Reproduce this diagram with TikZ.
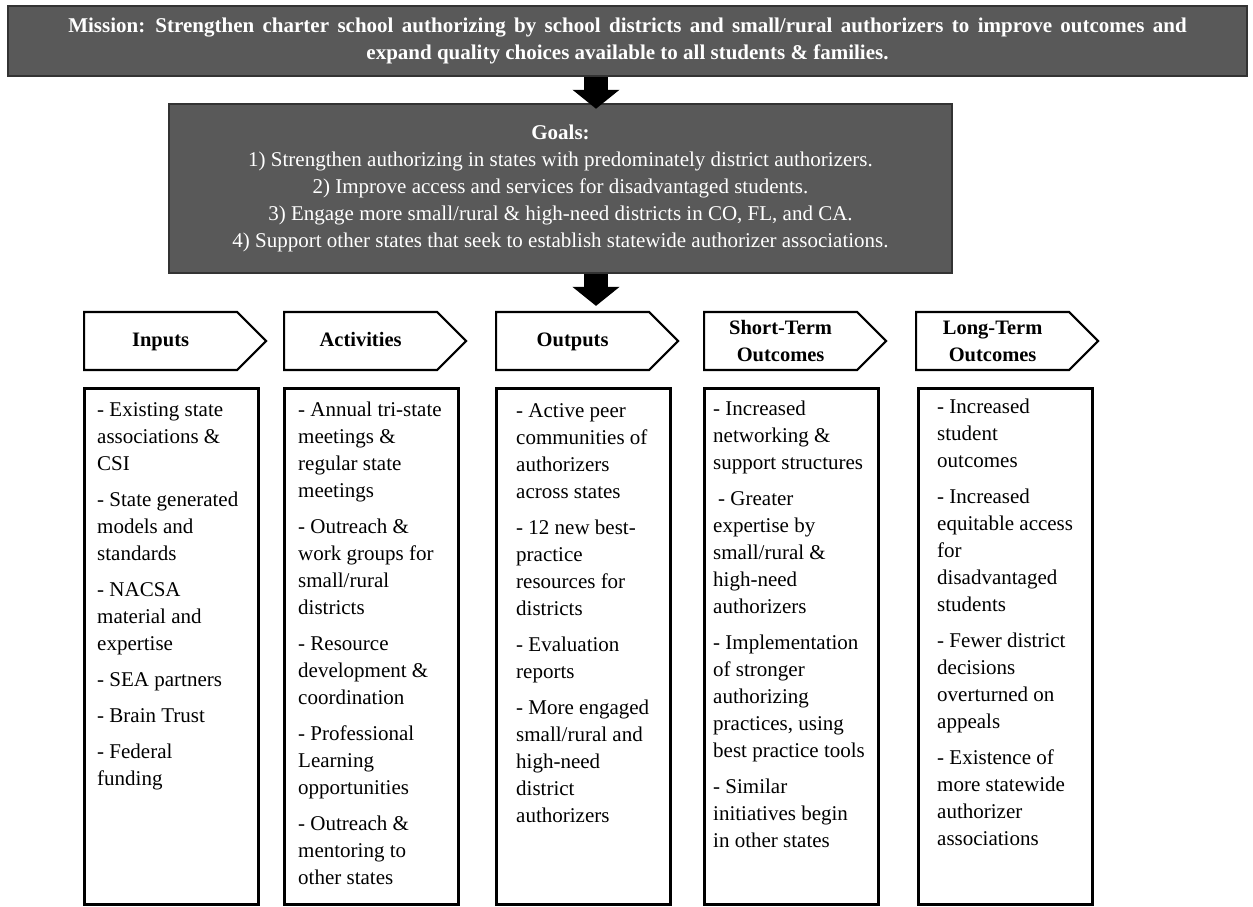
\documentclass[tikz,border=0pt]{standalone}
\usepackage{fontspec}
\setmainfont{Liberation Serif}
\usetikzlibrary{positioning,shapes.symbols,arrows.meta}

\tikzset{
  darkbox/.style = {draw=black!80, line width=2.5pt, fill=black!65, text=white,
    align=center, font=\fontsize{21}{27}\selectfont},
  header/.style = {signal, signal to=east, signal pointer angle=90, draw=black,
    line width=2.2pt, minimum width=182pt, minimum height=58pt, inner sep=0pt,
    align=center, anchor=west, font=\bfseries\fontsize{20.5}{27}\selectfont},
  listbox/.style = {draw=black, line width=2.5pt, minimum width=174pt,
    minimum height=516pt, inner sep=0pt, anchor=north west},
  listtext/.style = {align=left, inner sep=0pt, font=\fontsize{21}{27}\selectfont},
  blockarrow/.style = {line width=24pt, -{Triangle[length=19pt, width=46pt]}}
}

\begin{document}
\begin{tikzpicture}[x=1pt, y=-1pt]
  \useasboundingbox (0,0) rectangle (1253,907);

  \node[darkbox, minimum width=1239pt, minimum height=70pt,
        font=\bfseries\fontsize{21}{27}\selectfont] (mission) at (627.5,41)
    {\spaceskip=0.4em plus 0.1em Mission: Strengthen charter school authorizing by school districts and small/rural authorizers to improve outcomes and\\
     expand quality choices available to all students \& families.};
  \node[darkbox, minimum width=783pt, minimum height=169pt] (goals) at (560.5,188.5)
    {\textbf{Goals:}\\
     1) Strengthen authorizing in states with predominately district authorizers.\\
     2) Improve access and services for disadvantaged students.\\
     3) Engage more small/rural \& high-need districts in CO, FL, and CA.\\
     4) Support other states that seek to establish statewide authorizer associations.};

  % headers
  \node[header] (inputs)     at (83,341)  {\strut Inputs};
  \node[header] (activities) at (283,341) {\strut Activities};
  \node[header] (outputs)    at (495,341) {\strut Outputs};
  \node[header] (shortterm)  at (703,341) {Short-Term\\Outcomes};
  \node[header] (longterm)   at (915,341) {Long-Term\\Outcomes};

  \coordinate (spine) at (596,0);
  \draw[blockarrow] (spine |- mission.south) -- ([yshift=-6pt]spine |- goals.north);
  \draw[blockarrow] (spine |- goals.south) -- ([yshift=5pt]spine |- outputs.north);

  % columns
  \node[listbox] (inputsbox)     at (83,387)  {};
  \node[listbox] (activitiesbox) at (283,387) {};
  \node[listbox] (outputsbox)    at (495,387) {};
  \node[listbox] (shorttermbox)  at (703,387) {};
  \node[listbox] (longtermbox)   at (917,387) {};

  \node[listtext, below right=15pt and 14pt of inputsbox.north west] (inputslist)
    {- Existing state\\ associations \&\\ CSI\\[9pt]
     - State generated\\ models and\\ standards\\[9pt]
     - NACSA\\ material and\\ expertise\\[9pt]
     - SEA partners\\[9pt]
     - Brain Trust\\[9pt]
     - Federal\\ funding};
  \node[listtext, below right=15pt and 15pt of activitiesbox.north west] (activitieslist)
    {- Annual tri-state\\ meetings \&\\ regular state\\ meetings\\[9pt]
     - Outreach \&\\ work groups for\\ small/rural\\ districts\\[9pt]
     - Resource\\ development \&\\ coordination\\[9pt]
     - Professional\\ Learning\\ opportunities\\[9pt]
     - Outreach \&\\ mentoring to\\ other states};
  \node[listtext, below right=16pt and 21pt of outputsbox.north west] (outputslist)
    {- Active peer\\ communities of\\ authorizers\\ across states\\[9pt]
     - 12 new best-\\ practice\\ resources for\\ districts\\[9pt]
     - Evaluation\\ reports\\[9pt]
     - More engaged\\ small/rural and\\ high-need\\ district\\ authorizers};
  \node[listtext, below right=14pt and 10pt of shorttermbox.north west] (shorttermlist)
    {- Increased\\ networking \&\\ support structures\\[9pt]
     \hspace{5pt}- Greater\\ expertise by\\ small/rural \&\\ high-need\\ authorizers\\[9pt]
     - Implementation\\ of stronger\\ authorizing\\ practices, using\\ best practice tools\\[9pt]
     - Similar\\ initiatives begin\\ in other states};
  \node[listtext, below right=12pt and 20pt of longtermbox.north west] (longtermlist)
    {- Increased\\ student\\ outcomes\\[9pt]
     - Increased\\ equitable access\\ for\\ disadvantaged\\ students\\[9pt]
     - Fewer district\\ decisions\\ overturned on\\ appeals\\[9pt]
     - Existence of\\ more statewide\\ authorizer\\ associations};
\end{tikzpicture}
\end{document}
